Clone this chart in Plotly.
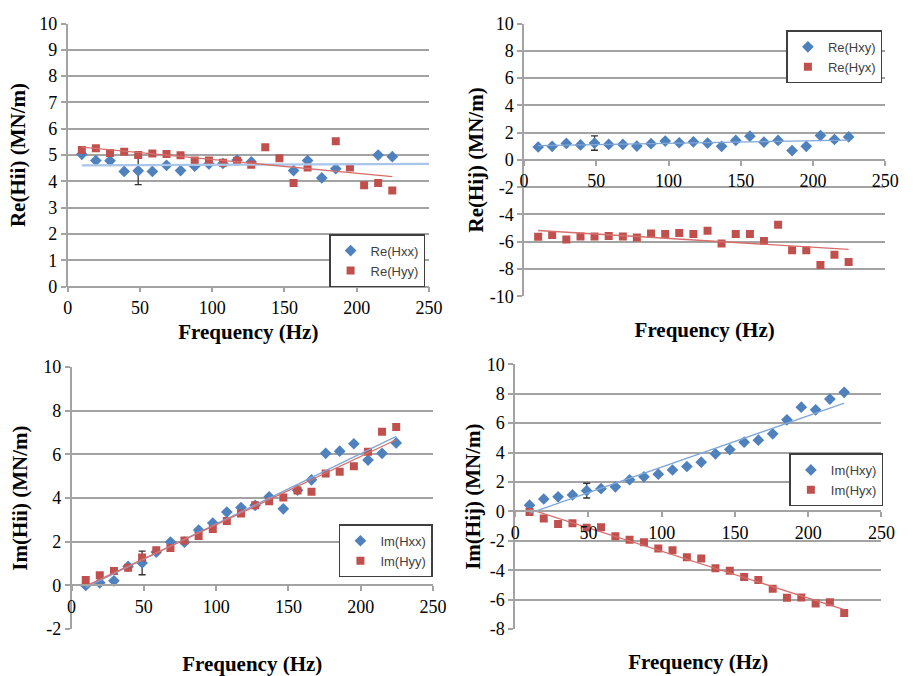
import numpy as np
import plotly.graph_objects as go

# ---------------- data ----------------
freq = [9.8, 19.5, 29.3, 39.1, 48.8, 58.6, 68.4, 78.1, 87.9, 97.7, 107.4, 117.2,
        127.0, 136.7, 146.5, 156.3, 166.0, 175.8, 185.5, 195.3, 205.1, 214.8, 224.6]

re_hxx = [5.03, 4.79, 4.78, 4.38, 4.40, 4.38, 4.61, 4.41, 4.58, 4.66, 4.68, 4.81,
          4.74, None, None, 4.41, 4.79, 4.13, 4.48, None, None, 5.00, 4.94]
re_hyy = [5.19, 5.26, 5.08, 5.13, 5.00, 5.06, 5.04, 4.99, 4.79, 4.79, 4.71, 4.78,
          4.63, 5.30, 4.88, 3.94, 4.53, None, 5.53, 4.53, 3.85, 3.94, 3.65]

re_hxy = [0.95, 1.00, 1.21, 1.10, 1.24, 1.14, 1.14, 1.02, 1.19, 1.38, 1.26, 1.33,
          1.24, 1.00, 1.43, 1.74, 1.31, 1.43, 0.69, 1.00, 1.79, 1.50, 1.69]
re_hyx = [-5.64, -5.50, -5.83, -5.62, -5.62, -5.57, -5.62, -5.69, -5.40, -5.43, -5.36, -5.43,
          -5.19, -6.12, -5.43, -5.43, -5.95, -4.76, -6.62, -6.62, -7.71, -6.95, -7.48]

im_hxx = [0.00, 0.12, 0.21, 0.87, 1.03, 1.53, 1.99, 1.98, 2.54, 2.86, 3.36, 3.57,
          3.67, 4.06, 3.51, 4.36, 4.84, 6.05, 6.15, 6.49, 5.74, 6.05, 6.53]
im_hyy = [0.25, 0.47, 0.66, 0.81, 1.28, 1.61, 1.71, 2.06, 2.26, 2.58, 2.95, 3.30,
          3.67, 3.86, 4.03, 4.35, 4.29, 5.13, 5.21, 5.46, 6.12, 7.04, 7.26]

im_hxy = [0.42, 0.84, 0.99, 1.12, 1.41, 1.54, 1.67, 2.15, 2.35, 2.53, 2.81, 3.05,
          3.34, 3.91, 4.20, 4.70, 4.84, 5.27, 6.22, 7.08, 6.90, 7.63, 8.09]
im_hyx = [-0.05, -0.48, -0.86, -0.81, -1.12, -1.08, -1.69, -1.93, -2.09, -2.53, -2.64, -3.12,
          -3.21, -3.87, -4.04, -4.46, -4.66, -5.25, -5.87, -5.85, -6.26, -6.18, -6.90]

# error bar (one point at ~49 Hz on the first series of each panel)
err_half = [0.52, 0.53, 0.54, 0.50]

x_ticks = [0, 50, 100, 150, 200, 250]

# ---------------- style ----------------
W, H = 915, 676
BLUE = "#4F81BD"
RED = "#C0504D"
BLUE_TR = "#7FA6D8"
RED_TR = "#D66F6C"
GRID = "#A3A3A3"
SERIF = "'Liberation Serif', 'Times New Roman', 'DejaVu Serif', serif"
SANS = "'Liberation Sans', Arial, sans-serif"

fig = go.Figure()

panels = [
    dict(box=(64, 14, 433, 285), yr=(0, 10), dt=1, s1=re_hxx, s2=re_hyy,
         n1="Re(Hxx)", n2="Re(Hyy)", yt="Re(Hii) (MN/m)", ext1=250,
         leg=(429, 231), tr1w=2.2, tr1c="#A9C5EA", xst=6, yst=8),
    dict(box=(530, 14, 899, 295), yr=(-10, 10), dt=2, s1=re_hxy, s2=re_hyx,
         n1="Re(Hxy)", n2="Re(Hyx)", yt="Re(Hij) (MN/m)", ext1=None,
         leg=(896, 21), tr1w=1.3, tr1c=BLUE_TR, xst=131, yst=0),
    dict(box=(68, 368, 437, 638), yr=(-2, 10), dt=2, s1=im_hxx, s2=im_hyy,
         n1="Im(Hxx)", n2="Im(Hyy)", yt="Im(Hii) (MN/m)", ext1=None,
         leg=(437, 530), tr1w=1.3, tr1c=BLUE_TR, xst=40, yst=10),
    dict(box=(521, 365, 895, 638), yr=(-8, 10), dt=2, s1=im_hxy, s2=im_hyx,
         n1="Im(Hxy)", n2="Im(Hyx)", yt="Im(Hij) (MN/m)", ext1=None,
         leg=(897, 457), tr1w=1.3, tr1c=BLUE_TR, xst=112, yst=0),
]


def fit_line(xs, ys, x_end=None):
    pts = [(a, b) for a, b in zip(xs, ys) if b is not None]
    px = np.array([q[0] for q in pts])
    py = np.array([q[1] for q in pts])
    k, c = np.polyfit(px, py, 1)
    x0 = px.min()
    x1 = px.max() if x_end is None else x_end
    return [x0, x1], [k * x0 + c, k * x1 + c]


layout = dict(
    width=W, height=H, margin=dict(l=0, r=0, t=0, b=0),
    paper_bgcolor="white", plot_bgcolor="white", showlegend=True,
)

for i, p in enumerate(panels):
    n = i + 1
    sfx = "" if n == 1 else str(n)
    xa, ya = "x" + sfx, "y" + sfx
    leg = "legend" + sfx
    L, T, R, B = p["box"]
    xd = [L / W, R / W]
    yd = [1 - B / H, 1 - T / H]
    y0, y1 = p["yr"]
    zero_pos = yd[0] + (yd[1] - yd[0]) * (0 - y0) / (y1 - y0)
    yvals = list(range(y0, y1 + p["dt"], p["dt"]))
    ytext = [str(v) for v in yvals]

    fig.add_trace(go.Scatter(
        x=[freq[4]], y=[p["s1"][4]], mode="markers", xaxis=xa, yaxis=ya,
        marker=dict(size=2, color="rgba(0,0,0,0)"), showlegend=False, hoverinfo="skip",
        error_y=dict(type="data", array=[err_half[i]], color="#333333", thickness=1.3, width=3.5),
    ))
    fig.add_trace(go.Scatter(
        x=freq, y=p["s1"], mode="markers", name=p["n1"], xaxis=xa, yaxis=ya,
        marker=dict(symbol="diamond", size=9, color=BLUE), legend=leg,
    ))
    fig.add_trace(go.Scatter(
        x=freq, y=p["s2"], mode="markers", name=p["n2"], xaxis=xa, yaxis=ya,
        marker=dict(symbol="square", size=8, color=RED), legend=leg,
    ))
    tx, ty = fit_line(freq, p["s1"], p["ext1"])
    fig.add_trace(go.Scatter(x=tx, y=ty, mode="lines", xaxis=xa, yaxis=ya, showlegend=False,
                             line=dict(color=p["tr1c"], width=p["tr1w"]), hoverinfo="skip"))
    tx, ty = fit_line(freq, p["s2"])
    fig.add_trace(go.Scatter(x=tx, y=ty, mode="lines", xaxis=xa, yaxis=ya, showlegend=False,
                             line=dict(color=RED_TR, width=1.3), hoverinfo="skip"))

    layout["xaxis" + sfx] = dict(
        domain=xd, range=[0, 250], tickvals=x_ticks, anchor="free", position=zero_pos,
        showgrid=False, zeroline=False, showline=True, linecolor=GRID, linewidth=1.5,
        ticks="outside", ticklen=5, tickcolor=GRID, tickwidth=1.5,
        tickfont=dict(family=SERIF, size=18, color="black"),
        title=dict(text="Frequency (Hz)", standoff=p["xst"],
                   font=dict(family=SERIF, size=21, color="black", weight="bold")),
    )
    layout["yaxis" + sfx] = dict(
        domain=yd, range=[y0, y1], tickvals=yvals, ticktext=ytext, anchor=xa,
        showgrid=True, gridcolor=GRID, gridwidth=1.5, zeroline=False,
        showline=True, linecolor=GRID, linewidth=1.5,
        ticks="outside", ticklen=5, tickcolor=GRID, tickwidth=1.5,
        tickfont=dict(family=SERIF, size=18, color="black"),
        title=dict(text=p["yt"], standoff=p["yst"],
                   font=dict(family=SERIF, size=21, color="black", weight="bold")),
    )
    lx, ly = p["leg"]
    layout[leg] = dict(
        x=lx / W, y=1 - ly / H, xanchor="right", yanchor="top",
        bgcolor="white", bordercolor="#3F3F3F", borderwidth=1.5,
        font=dict(family=SANS, size=13, color="#404040"), tracegroupgap=0,
    )

fig.update_layout(**layout)
fig.write_html("out.html")
